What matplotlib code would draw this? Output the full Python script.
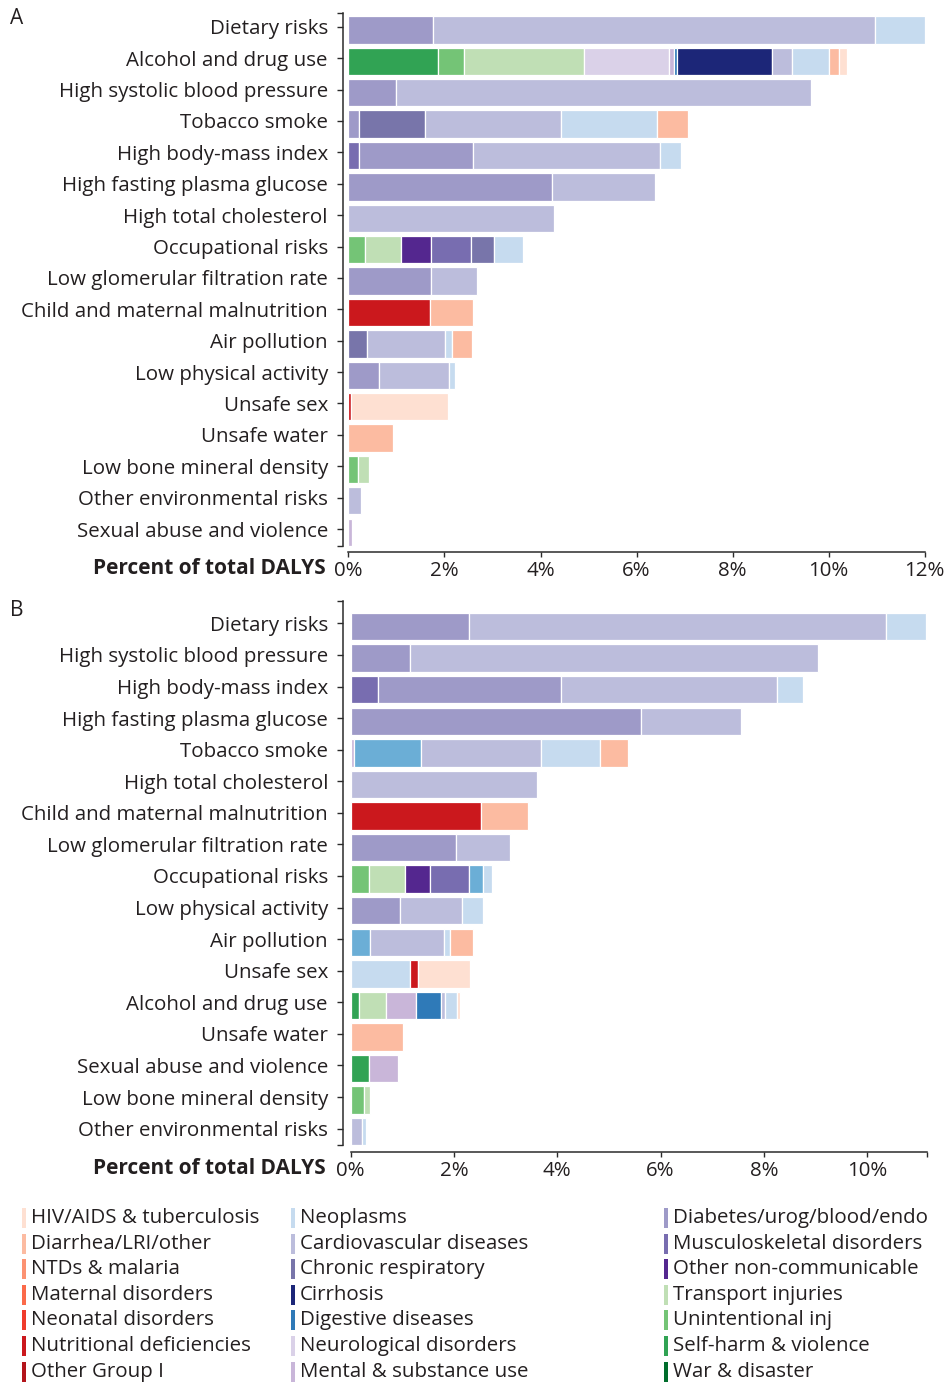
import matplotlib.pyplot as plt
from matplotlib.patches import Rectangle

plt.rcParams['font.family'] = ['Open Sans', 'DejaVu Sans']

W, H = 946, 1383
TXT = '#231f20'
AXC = '#2b2b2b'

causes = ["HIV/AIDS & tuberculosis", "Diarrhea/LRI/other", "NTDs & malaria", "Maternal disorders",
          "Neonatal disorders", "Nutritional deficiencies", "Other Group I",
          "Neoplasms", "Cardiovascular diseases", "Chronic respiratory", "Cirrhosis",
          "Digestive diseases", "Neurological disorders", "Mental & substance use",
          "Diabetes/urog/blood/endo", "Musculoskeletal disorders", "Other non-communicable",
          "Transport injuries", "Unintentional inj", "Self-harm & violence", "War & disaster"]
cause_colors = ["#fee0d2", "#fcbba1", "#fc9272", "#fb6a4a", "#ef3b2c", "#cb181d", "#b3141b",
                "#c6dbef", "#bcbddc", "#7875aa", "#1c2678", "#2f7ab8", "#dad1e8", "#c9b6d9",
                "#9e9ac8", "#786db0", "#54278f", "#c0dfb5", "#74c476", "#31a354", "#006d2c"]

# panel A
risks_a = ["Dietary risks", "Alcohol and drug use", "High systolic blood pressure", "Tobacco smoke",
           "High body-mass index", "High fasting plasma glucose", "High total cholesterol",
           "Occupational risks", "Low glomerular filtration rate", "Child and maternal malnutrition",
           "Air pollution", "Low physical activity", "Unsafe sex", "Unsafe water",
           "Low bone mineral density", "Other environmental risks", "Sexual abuse and violence"]
segments_a = [
    [("Diabetes/urog/blood/endo", 1.77), ("Cardiovascular diseases", 9.19), ("Neoplasms", 1.04)],
    [("Self-harm & violence", 1.87), ("Unintentional inj", 0.53), ("Transport injuries", 2.51),
     ("Neurological disorders", 1.77), ("Mental & substance use", 0.10), ("Digestive diseases", 0.07),
     ("Cirrhosis", 1.97), ("Cardiovascular diseases", 0.41), ("Neoplasms", 0.78),
     ("Diarrhea/LRI/other", 0.21), ("HIV/AIDS & tuberculosis", 0.15)],
    [("Diabetes/urog/blood/endo", 0.99), ("Cardiovascular diseases", 8.65)],
    [("Diabetes/urog/blood/endo", 0.23), ("Chronic respiratory", 1.37), ("Cardiovascular diseases", 2.82),
     ("Neoplasms", 2.00), ("Diarrhea/LRI/other", 0.65)],
    [("Musculoskeletal disorders", 0.22), ("Diabetes/urog/blood/endo", 2.38),
     ("Cardiovascular diseases", 3.89), ("Neoplasms", 0.44)],
    [("Diabetes/urog/blood/endo", 4.23), ("Cardiovascular diseases", 2.15)],
    [("Cardiovascular diseases", 4.27)],
    [("Unintentional inj", 0.35), ("Transport injuries", 0.75), ("Other non-communicable", 0.63),
     ("Musculoskeletal disorders", 0.83), ("Chronic respiratory", 0.48), ("Neoplasms", 0.59)],
    [("Diabetes/urog/blood/endo", 1.71), ("Cardiovascular diseases", 0.97)],
    [("Nutritional deficiencies", 1.69), ("Diarrhea/LRI/other", 0.91)],
    [("Chronic respiratory", 0.38), ("Cardiovascular diseases", 1.64), ("Neoplasms", 0.13),
     ("Diarrhea/LRI/other", 0.42)],
    [("Diabetes/urog/blood/endo", 0.64), ("Cardiovascular diseases", 1.45), ("Neoplasms", 0.13)],
    [("Nutritional deficiencies", 0.05), ("HIV/AIDS & tuberculosis", 2.03)],
    [("Diarrhea/LRI/other", 0.93)],
    [("Unintentional inj", 0.20), ("Transport injuries", 0.23)],
    [("Cardiovascular diseases", 0.27)],
    [("Mental & substance use", 0.07)],
]

# panel B
risks_b = ["Dietary risks", "High systolic blood pressure", "High body-mass index",
           "High fasting plasma glucose", "Tobacco smoke", "High total cholesterol",
           "Child and maternal malnutrition", "Low glomerular filtration rate", "Occupational risks",
           "Low physical activity", "Air pollution", "Unsafe sex", "Alcohol and drug use",
           "Unsafe water", "Sexual abuse and violence", "Low bone mineral density",
           "Other environmental risks"]
segments_b = [
    [("Diabetes/urog/blood/endo", 2.29), ("Cardiovascular diseases", 8.07), ("Neoplasms", 0.78)],
    [("Diabetes/urog/blood/endo", 1.15), ("Cardiovascular diseases", 7.89)],
    [("Musculoskeletal disorders", 0.53), ("Diabetes/urog/blood/endo", 3.55),
     ("Cardiovascular diseases", 4.17), ("Neoplasms", 0.50)],
    [("Diabetes/urog/blood/endo", 5.63), ("Cardiovascular diseases", 1.93)],
    [("Mental & substance use", 0.07), ("Chronic respiratory", 1.30), ("Cardiovascular diseases", 2.32),
     ("Neoplasms", 1.14), ("Diarrhea/LRI/other", 0.53)],
    [("Cardiovascular diseases", 3.60)],
    [("Nutritional deficiencies", 2.53), ("Diarrhea/LRI/other", 0.91)],
    [("Diabetes/urog/blood/endo", 2.05), ("Cardiovascular diseases", 1.04)],
    [("Unintentional inj", 0.36), ("Transport injuries", 0.70), ("Other non-communicable", 0.48),
     ("Musculoskeletal disorders", 0.75), ("Chronic respiratory", 0.27), ("Neoplasms", 0.18)],
    [("Diabetes/urog/blood/endo", 0.95), ("Cardiovascular diseases", 1.20), ("Neoplasms", 0.41)],
    [("Chronic respiratory", 0.38), ("Cardiovascular diseases", 1.43), ("Neoplasms", 0.12),
     ("Diarrhea/LRI/other", 0.44)],
    [("Neoplasms", 1.15), ("Nutritional deficiencies", 0.15), ("HIV/AIDS & tuberculosis", 1.02)],
    [("Self-harm & violence", 0.17), ("Transport injuries", 0.52), ("Mental & substance use", 0.57),
     ("Digestive diseases", 0.49), ("Cardiovascular diseases", 0.08), ("Neoplasms", 0.24),
     ("HIV/AIDS & tuberculosis", 0.04)],
    [("Diarrhea/LRI/other", 1.01)],
    [("Self-harm & violence", 0.36), ("Mental & substance use", 0.55)],
    [("Unintentional inj", 0.27), ("Transport injuries", 0.10)],
    [("Cardiovascular diseases", 0.23), ("Neoplasms", 0.07)],
]

ticks_a = [0, 2, 4, 6, 8, 10, 12]
ticks_b = [0, 2, 4, 6, 8, 10]

color_of = dict(zip(causes, cause_colors))
color_b = dict(color_of)
color_b["Chronic respiratory"] = "#6baed6"

fig = plt.figure(figsize=(W / 100, H / 100), dpi=100)


def px_axes(left, top, right, bottom):
    return fig.add_axes([left / W, 1 - bottom / H, (right - left) / W, (bottom - top) / H])


def draw_panel(ax, risks, segments, colors, ticks, xmax, ylim, left_out, bottom_out):
    for i, segs in enumerate(segments):
        start = 0
        for cause, val in segs:
            ax.barh(i, val, left=start, height=0.87, color=colors[cause],
                    edgecolor='white', linewidth=0.9)
            start += val
    ax.set_xlim(0, xmax)
    ax.set_ylim(*ylim)
    # labels sit a little above the bar centres in the original
    ax.set_yticks([i - 0.1 for i in range(len(risks))])
    ax.set_yticklabels(risks)
    ax.set_yticks(list(ylim), minor=True)
    ax.set_xticks(ticks)
    ax.set_xticklabels([f"{t}%" for t in ticks])
    ax.set_xticks([xmax], minor=True)
    for s in ['top', 'right']:
        ax.spines[s].set_visible(False)
    ax.spines['left'].set_position(('outward', left_out))
    ax.spines['bottom'].set_position(('outward', bottom_out))
    for s in ['left', 'bottom']:
        ax.spines[s].set_color(AXC)
        ax.spines[s].set_linewidth(1.1)
    ax.tick_params(axis='y', which='both', length=4, width=1.0, color=AXC, pad=7,
                   labelsize=14.75, labelcolor=TXT)
    ax.tick_params(axis='x', which='both', length=3.5, width=1.0, color=AXC, pad=3,
                   labelsize=14.75, labelcolor=TXT)
    ax.tick_params(axis='y', which='minor', labelleft=False)


ax_a = px_axes(348.4, 13, 924.8, 546)
draw_panel(ax_a, risks_a, segments_a, color_of, ticks_a, 12, (16.44, -0.54), 3.7, 4.1)

ax_b = px_axes(350.5, 601, 926.8, 1145)
draw_panel(ax_b, risks_b, segments_b, color_b, ticks_b, 11.15, (16.42, -0.81), 5.2, 4.8)

for ycen in [569, 1169]:
    fig.text(326 / W, 1 - ycen / H, "Percent of total DALYS", ha='right', va='center',
             fontsize=15, fontweight='bold', color=TXT)

fig.text(10 / W, 1 - 18 / H, "A", ha='left', va='center', fontsize=15, color=TXT)
fig.text(10 / W, 1 - 610 / H, "B", ha='left', va='center', fontsize=15, color=TXT)

# legend, three columns of seven
col_x = [22, 291, 664]
for k, (cause, col) in enumerate(zip(causes, cause_colors)):
    cx = col_x[k // 7]
    cy = 1218 + (k % 7) * 25.6
    fig.patches.append(Rectangle((cx / W, 1 - (cy + 10) / H), 4 / W, 20 / H,
                                 transform=fig.transFigure, color=col, lw=0))
    fig.text((cx + 9) / W, 1 - cy / H, cause, ha='left', va='center',
             fontsize=14.75, color=TXT)

fig.savefig("out.png", dpi=100)
